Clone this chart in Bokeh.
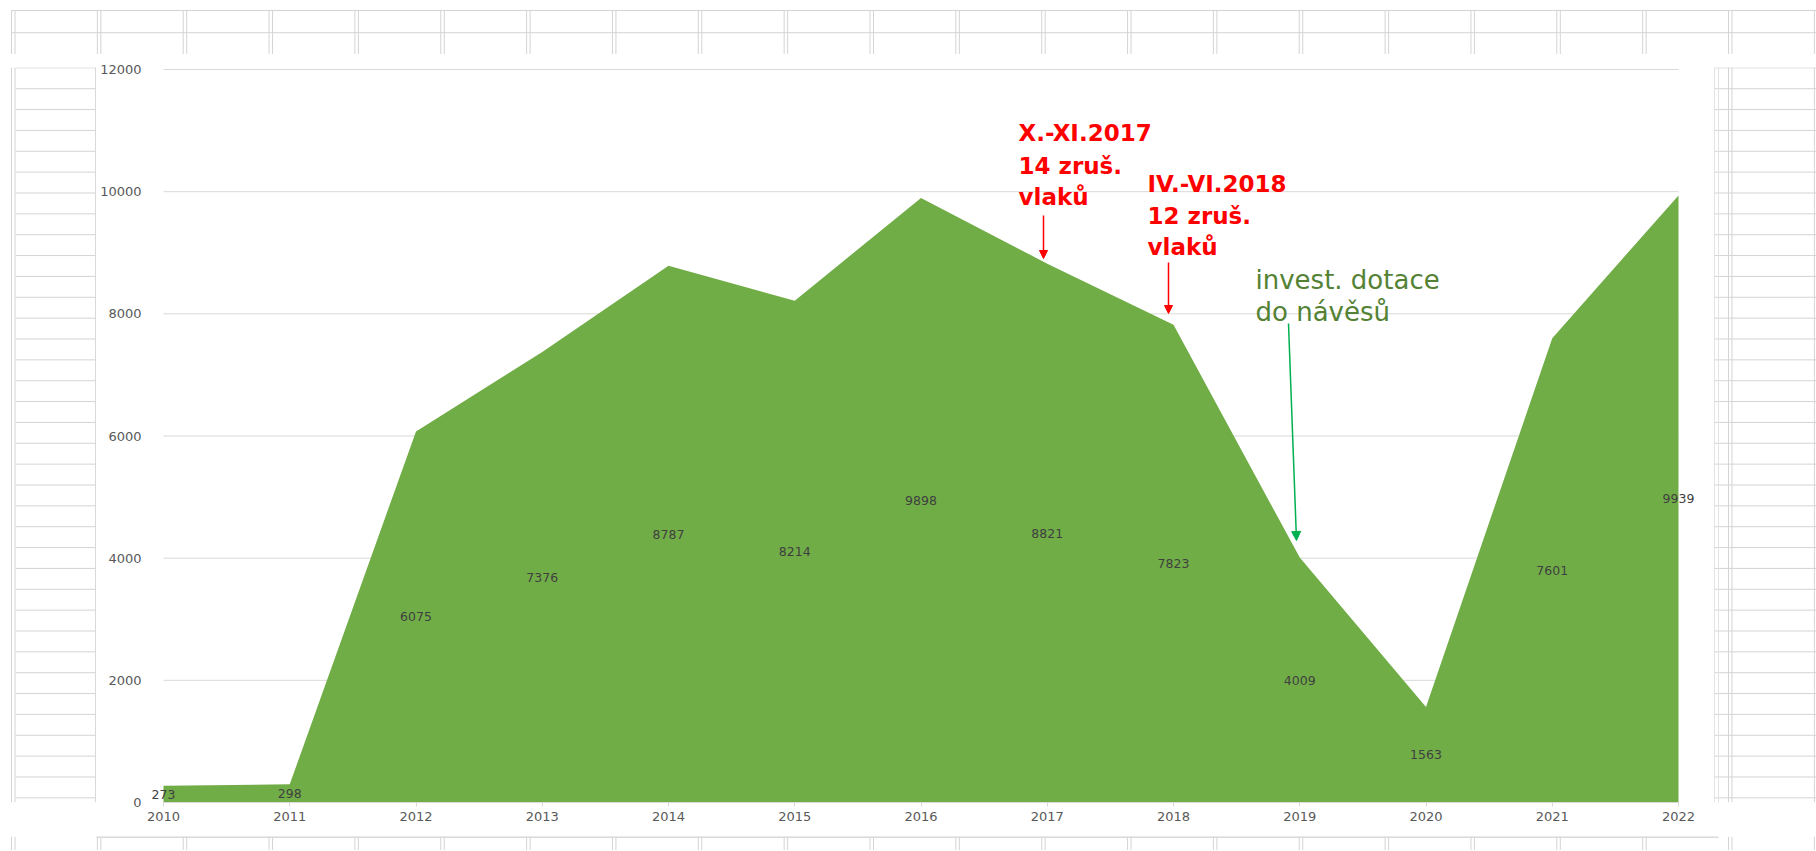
from bokeh.plotting import figure
from bokeh.layouts import column, row
from bokeh.models import ColumnDataSource, Range1d, Label, Arrow, NormalHead
from bokeh.embed import file_html
from bokeh.resources import INLINE

# ---------------- data ----------------
years = [2010, 2011, 2012, 2013, 2014, 2015, 2016, 2017, 2018, 2019, 2020, 2021, 2022]
values = [273, 298, 6075, 7376, 8787, 8214, 9898, 8821, 7823, 4009, 1563, 7601, 9939]
y_ticks = [0, 2000, 4000, 6000, 8000, 10000, 12000]
note1 = ["X.-XI.2017", "14 zruš.", "vlaků"]
note2 = ["IV.-VI.2018", "12 zruš.", "vlaků"]
note3 = ["invest. dotace", "do návěsů"]

# ---------------- styles ----------------
GRID = "#D4D4D4"
AREA = "#70AD47"
COL0, COLW = 11.0, 85.85
ROW0, ROWH = 10.0, 22.19
FONT = "DejaVu Sans"
PPY = 126.25           # pixels per year
PPV = 733 / 12000      # pixels per unit of value
PAD_L, PAD_R, PAD_T = 13, 18, 2  # frame padding (px) so edge labels/lines are not clipped


def strip(x0, x1, y0, y1, row_x0, row_x1, col_y0):
    p = figure(width=int(round(x1 - x0)), height=int(round(y1 - y0)),
               x_range=Range1d(x0, x1), y_range=Range1d(y1, y0),
               output_backend="svg", toolbar_location=None,
               x_axis_location=None, y_axis_location=None,
               min_border_left=0, min_border_right=0, min_border_top=0, min_border_bottom=0)
    p.grid.visible = False
    p.outline_line_color = None
    p.background_fill_color = "white"
    p.border_fill_color = "white"
    xs0, ys0, xs1, ys1 = [], [], [], []
    for k in range(0, 23):
        for off in (0.0, 3.5):
            xc = COL0 + COLW * k + off
            if x0 - 2 <= xc <= x1 + 2:
                xs0.append(xc); xs1.append(xc)
                ys0.append(max(col_y0, y0)); ys1.append(y1)
    for k in range(0, 40):
        yc = ROW0 + ROWH * k
        if y0 - 1 <= yc <= y1 + 1:
            xs0.append(max(row_x0, x0)); xs1.append(min(row_x1, x1))
            ys0.append(yc); ys1.append(yc)
    p.segment(x0=xs0, y0=ys0, x1=xs1, y1=ys1, line_color=GRID, line_width=1)
    return p


# spreadsheet surroundings (coordinates are window pixels)
top = strip(0, 1816, 0, 54, 11, 1816, 10)
left = strip(0, 96, 54, 836, 15, 96, 10)
left.segment(x0=[95.5], y0=[54], x1=[95.5], y1=[836], line_color="#D9D9D9", line_width=2)
right = strip(1713, 1816, 54, 836, 1713, 1816, 10)
right.segment(x0=[1714, 1718], y0=[54, 54], x1=[1714, 1718], y1=[836, 836], line_color="#E3E3E3", line_width=1)
bottom = strip(0, 1816, 836, 850, 11, 1816, 10)
bottom.segment(x0=[96], y0=[836.5], x1=[1718], y1=[836.5], line_color="#D9D9D9", line_width=2)

# ---------------- chart ----------------
p = figure(width=1617, height=782,
           x_range=Range1d(years[0] - PAD_L / PPY, years[-1] + PAD_R / PPY),
           y_range=Range1d(0, y_ticks[-1] + PAD_T / PPV),
           min_border_left=67 - PAD_L, min_border_right=35 - PAD_R,
           min_border_top=15 - PAD_T, min_border_bottom=34,
           output_backend="svg", toolbar_location=None)
p.outline_line_color = None
p.background_fill_color = "white"
p.border_fill_color = "white"
p.grid.visible = False

# horizontal gridlines limited to the category span
p.segment(x0=[years[0]] * len(y_ticks), y0=y_ticks, x1=[years[-1]] * len(y_ticks), y1=y_ticks,
          line_color="#D9D9D9", line_width=1)

src = ColumnDataSource(dict(x=years, y=values))
p.varea(x="x", y1=0, y2="y", source=src, fill_color=AREA)

p.xaxis.ticker = years
p.xaxis.bounds = (years[0], years[-1])
p.xaxis.axis_line_color = "#D9D9D9"
p.xaxis.major_tick_line_color = "#D9D9D9"
p.xaxis.major_tick_in = 0
p.xaxis.major_tick_out = 4
p.xaxis.minor_tick_line_color = None
p.xaxis.major_label_standoff = 5
p.yaxis.ticker = y_ticks
p.yaxis.axis_line_color = None
p.yaxis.major_tick_line_color = None
p.yaxis.minor_tick_line_color = None
p.yaxis.major_label_standoff = 16 - PAD_L
for ax in (p.xaxis[0], p.yaxis[0]):
    ax.major_label_text_font = FONT
    ax.major_label_text_font_size = "13px"
    ax.major_label_text_color = "#595959"

# data labels, centred in the middle of each column of the area
for yr, v in zip(years, values):
    p.add_layout(Label(x=yr, y=v / 2, text=str(v), text_align="center", text_baseline="middle",
                       text_font=FONT, text_font_size="12.5px", text_color="#404040"))


def dx(px):
    return years[0] + (px - 163) / PPY


def dy(py):
    return (802 - py) / PPV


for txt, base in zip(note1, [132, 165, 196]):
    p.add_layout(Label(x=dx(1018), y=dy(base), text=txt, text_font=FONT, text_font_style="bold",
                       text_font_size="23px", text_color="#FF0000", text_baseline="alphabetic"))
for txt, base in zip(note2, [183, 215, 246]):
    p.add_layout(Label(x=dx(1147), y=dy(base), text=txt, text_font=FONT, text_font_style="bold",
                       text_font_size="23px", text_color="#FF0000", text_baseline="alphabetic"))
for txt, base in zip(note3, [279, 311]):
    p.add_layout(Label(x=dx(1255), y=dy(base), text=txt, text_font=FONT,
                       text_font_size="26px", text_color="#548235", text_baseline="alphabetic"))

p.add_layout(Arrow(x_start=dx(1043), y_start=dy(215), x_end=dx(1043), y_end=dy(258),
                   line_color="#FF0000", line_width=1.5,
                   end=NormalHead(size=8, fill_color="#FF0000", line_color="#FF0000")))
p.add_layout(Arrow(x_start=dx(1168), y_start=dy(262), x_end=dx(1168), y_end=dy(313),
                   line_color="#FF0000", line_width=1.5,
                   end=NormalHead(size=8, fill_color="#FF0000", line_color="#FF0000")))
p.add_layout(Arrow(x_start=dx(1288), y_start=dy(323), x_end=dx(1296), y_end=dy(540),
                   line_color="#00B050", line_width=1.5,
                   end=NormalHead(size=9, fill_color="#00B050", line_color="#00B050")))

layout = column(top, row(left, p, right), bottom)
open("out.html", "w").write(file_html(layout, INLINE))
